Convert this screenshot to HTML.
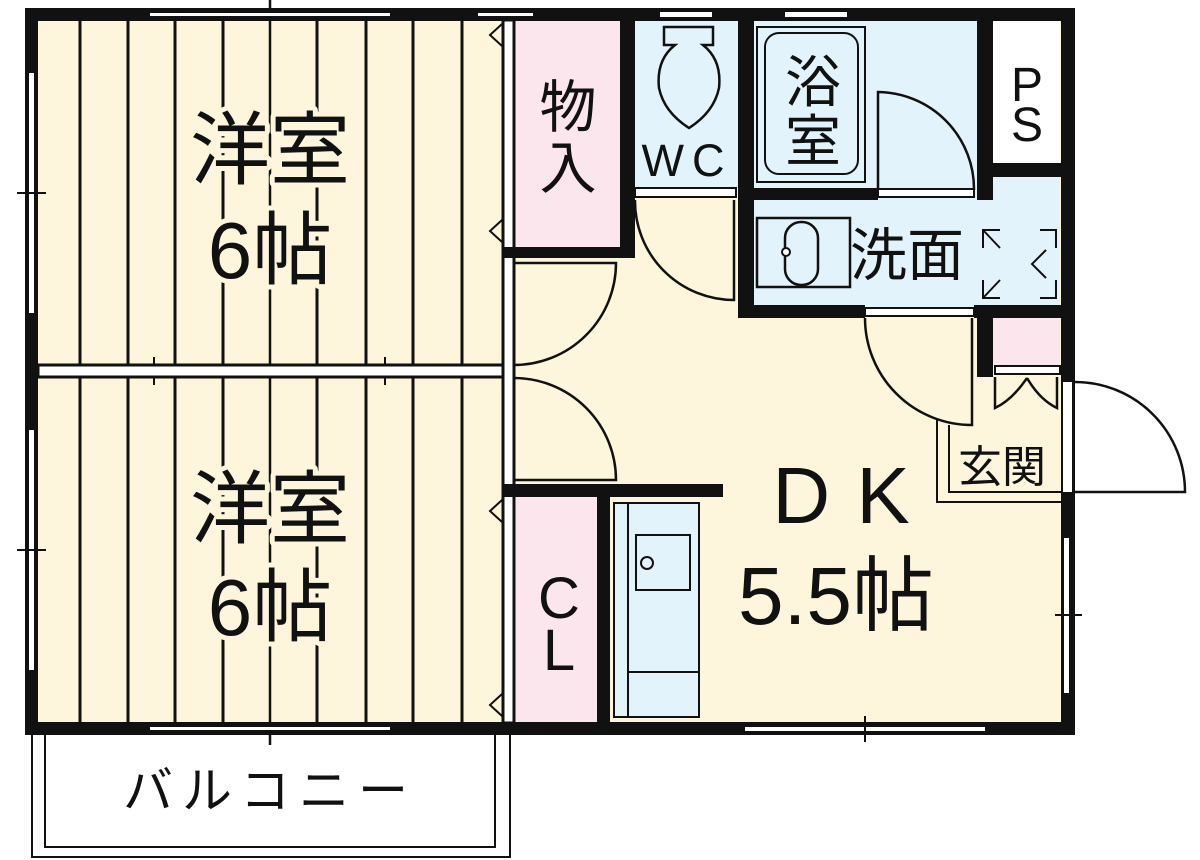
<!DOCTYPE html>
<html><head><meta charset="utf-8"><style>
html,body{margin:0;padding:0;background:#fff;}
svg{display:block;}
text{font-family:"Liberation Sans","Noto Sans CJK JP",sans-serif;fill:#111;}
</style></head><body>
<svg width="1200" height="860" viewBox="0 0 1200 860" xmlns="http://www.w3.org/2000/svg">
<rect width="1200" height="860" fill="#fff"/>
<rect x="38" y="20" width="465" height="703" fill="#fdf6dd"/>
<rect x="514" y="20" width="548" height="703" fill="#fdf6dd"/>
<rect x="514" y="20" width="106" height="228" fill="#fce6ee"/>
<rect x="635" y="20" width="103" height="170" fill="#e3f3fb"/>
<rect x="754" y="20" width="224" height="170" fill="#e3f3fb"/>
<rect x="993" y="20" width="67" height="143" fill="#fff"/>
<rect x="754" y="177" width="306" height="130" fill="#e3f3fb"/>
<rect x="993" y="318" width="67" height="48" fill="#fce6ee"/>
<rect x="516" y="497" width="82" height="226" fill="#fce6ee"/>
<rect x="614" y="503" width="85" height="214" fill="#e3f3fb"/>

<g stroke="#111" stroke-width="3">
<line x1="80" y1="20" x2="80" y2="723"/><line x1="128" y1="20" x2="128" y2="723"/>
<line x1="175" y1="20" x2="175" y2="723"/><line x1="223" y1="20" x2="223" y2="723"/>
<line x1="317" y1="20" x2="317" y2="723"/><line x1="366" y1="20" x2="366" y2="723"/>
<line x1="413" y1="20" x2="413" y2="723"/><line x1="462" y1="20" x2="462" y2="723"/>
<line x1="270" y1="0" x2="270" y2="745" stroke-width="2.5"/>
</g>

<g fill="#111">
<rect x="25" y="8" width="1050" height="13"/>
<rect x="25" y="8" width="13" height="727"/>
<rect x="25" y="722" width="1050" height="13"/>
<rect x="1061" y="8" width="14" height="727"/>
</g>
<g fill="#fff">
<rect x="150" y="13" width="240" height="3"/>
<rect x="29" y="73" width="5" height="240"/>
<rect x="29" y="430" width="5" height="240"/>
<rect x="150" y="727" width="240" height="3"/>
<rect x="745" y="727" width="240" height="4"/>
<rect x="1064" y="538" width="5" height="155"/>
<rect x="1063" y="382" width="9" height="110"/>
<rect x="478" y="13" width="55" height="3"/>
<rect x="660" y="12" width="52" height="5"/>
<rect x="785" y="12" width="62" height="5"/>
</g>
<g stroke="#111" stroke-width="2">
<line x1="17" y1="193" x2="46" y2="193"/><line x1="17" y1="550" x2="46" y2="550"/>
<line x1="1055" y1="615" x2="1082" y2="615"/><line x1="865" y1="716" x2="865" y2="742"/>
<line x1="154" y1="357" x2="154" y2="385"/><line x1="385" y1="357" x2="385" y2="385"/>
</g>

<rect x="38" y="365" width="465" height="12" fill="#fff" stroke="#111" stroke-width="3"/>
<rect x="503" y="20" width="11" height="703" fill="#fff" stroke="#111" stroke-width="3"/>
<g fill="#111">
<rect x="503" y="247" width="132" height="11"/>
<rect x="620" y="20" width="15" height="238"/>
<rect x="738" y="20" width="16" height="298"/>
<rect x="754" y="188" width="124" height="12"/>
<rect x="977" y="20" width="16" height="180"/>
<rect x="993" y="163" width="68" height="14"/>
<rect x="738" y="305" width="127" height="13"/>
<rect x="974" y="305" width="87" height="13"/>
<rect x="977" y="305" width="16" height="72"/>
<rect x="503" y="484" width="220" height="13"/>
<rect x="597" y="497" width="13" height="226"/>
</g>
<rect x="635" y="188" width="101" height="9" fill="#fff" stroke="#111" stroke-width="2"/>
<rect x="878" y="189" width="96" height="8" fill="#fff" stroke="#111" stroke-width="2"/>
<rect x="865" y="308" width="109" height="8" fill="#fff" stroke="#111" stroke-width="2"/>
<rect x="995" y="366" width="65" height="8" fill="#fff" stroke="#111" stroke-width="2"/>

<g fill="none" stroke="#111" stroke-width="2.5">
<path d="M635 200 A99 99 0 0 0 734 300 L734 200"/>
<path d="M878 190 L878 92 A97 97 0 0 1 974 190"/>
<path d="M514 263 L616 263 A102 102 0 0 1 514 365"/>
<path d="M514 378 A102 102 0 0 1 616 480 L514 480"/>
<path d="M865 318 A107 107 0 0 0 972 425 L972 318"/>
<path d="M1075 382 A110 110 0 0 1 1185 492 L1075 492"/>
<path d="M995 377 L995 408 Q1012 400 1027 378 M1057 377 L1057 408 Q1040 400 1027 378"/>
</g>
<g fill="none" stroke="#111" stroke-width="2">
<polyline points="937,420 937,502 1061,502"/>
<polyline points="949,425 949,492 1061,492"/>
</g>
<g fill="none" stroke="#111" stroke-width="2">
<polyline points="502,24 490,35 502,46"/><polyline points="502,220 490,231 502,242"/>
<polyline points="502,500 490,511 502,522"/><polyline points="502,694 490,705 502,716"/>
</g>

<g fill="none" stroke="#111" stroke-width="2.5">
<path d="M664 27 H713 V45 H703 Q722 60 719 88 Q714 112 689 128 Q664 112 659 88 Q656 60 675 45 H664 Z"/>
</g>
<rect x="757" y="27" width="108" height="155" fill="none" stroke="#111" stroke-width="2"/>
<rect x="765" y="33" width="93" height="141" rx="14" fill="none" stroke="#111" stroke-width="2"/>
<rect x="757" y="218" width="93" height="69" fill="none" stroke="#111" stroke-width="2.5"/>
<rect x="785" y="222" width="33" height="63" rx="16" fill="none" stroke="#111" stroke-width="2.5"/>
<circle cx="786" cy="252" r="4" fill="#fff" stroke="#111" stroke-width="2"/>
<g fill="none" stroke="#111" stroke-width="2">
<polyline points="983,248 983,230 1000,230"/><line x1="983" y1="230" x2="1000" y2="248"/>
<polyline points="1040,230 1056,230 1056,248"/>
<polyline points="983,280 983,298 1000,298"/><line x1="983" y1="298" x2="1000" y2="280"/>
<polyline points="1040,298 1056,298 1056,280"/>
<polyline points="1046,250 1032,264 1046,278"/>
</g>
<g fill="none" stroke="#111" stroke-width="2">
<rect x="614" y="503" width="85" height="214"/>
<line x1="628" y1="503" x2="628" y2="717"/>
<line x1="628" y1="672" x2="699" y2="672"/>
<rect x="636" y="535" width="54" height="55"/>
<circle cx="647" cy="563" r="6"/>
</g>

<g fill="none" stroke="#111" stroke-width="2">
<polyline points="32,735 32,857 510,857 510,735"/>
<polyline points="45,735 45,847 495,847 495,735"/>
</g>

<g stroke="#fdf6dd" stroke-width="10" paint-order="stroke" stroke-linejoin="round">
<text x="270" y="178" font-size="80" text-anchor="middle">洋室</text>
<text x="270" y="278" font-size="80" text-anchor="middle">6帖</text>
<text x="270" y="537" font-size="80" text-anchor="middle">洋室</text>
<text x="270" y="635" font-size="80" text-anchor="middle">6帖</text>
<text x="842" y="523" font-size="80" text-anchor="middle" letter-spacing="2">D K</text>
<text x="836" y="624" font-size="82" text-anchor="middle">5.5帖</text>
</g>
<text x="568" y="127" font-size="57" text-anchor="middle">物</text>
<text x="568" y="188" font-size="57" text-anchor="middle">入</text>
<text x="687" y="176" font-size="45" text-anchor="middle" letter-spacing="8">WC</text>
<text x="813" y="102" font-size="56" text-anchor="middle">浴</text>
<text x="813" y="161" font-size="56" text-anchor="middle">室</text>
<text x="1027" y="101" font-size="48" text-anchor="middle">P</text>
<text x="1027" y="141" font-size="48" text-anchor="middle">S</text>
<text x="907" y="275" font-size="57" text-anchor="middle">洗面</text>
<text x="1002" y="482" font-size="44" text-anchor="middle">玄関</text>
<text x="559" y="618" font-size="58" text-anchor="middle">C</text>
<text x="559" y="670" font-size="58" text-anchor="middle">L</text>
<text x="270" y="808" font-size="50" text-anchor="middle" letter-spacing="9">バルコニー</text>
</svg>
</body></html>
